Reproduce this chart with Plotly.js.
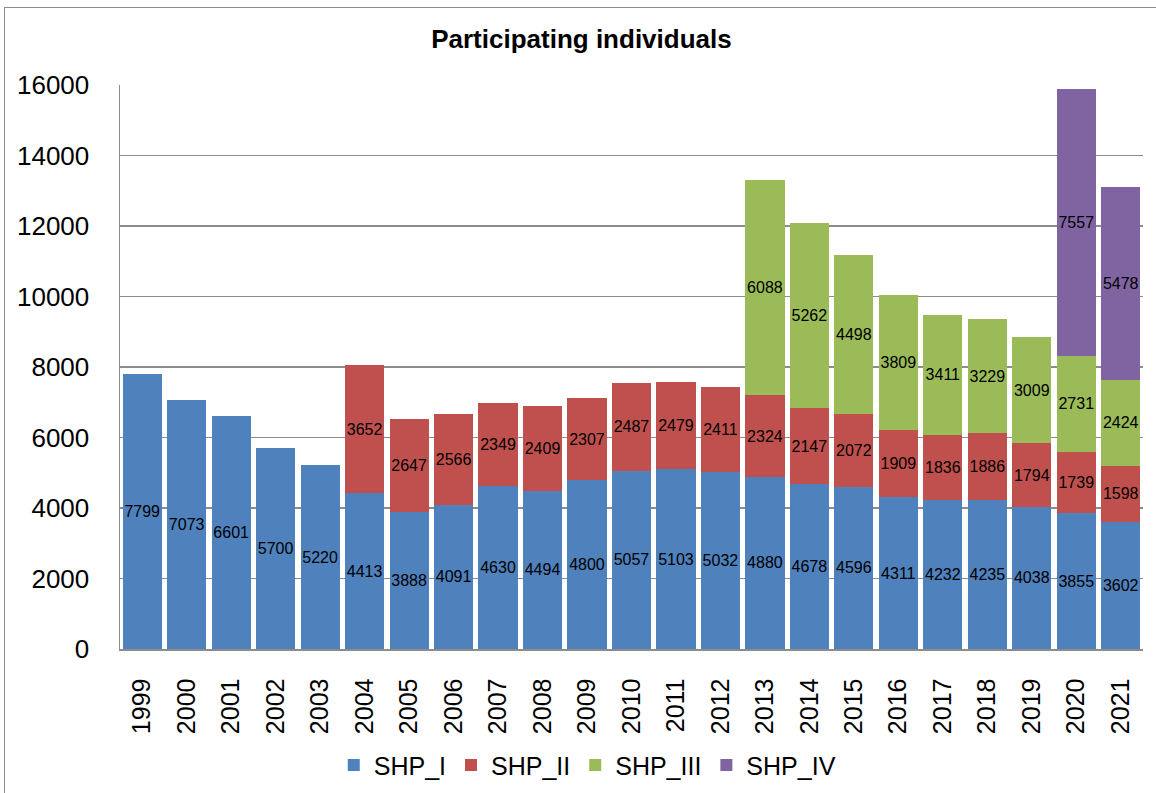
<!DOCTYPE html>
<html>
<head>
<meta charset="utf-8">
<script src="https://cdn.plot.ly/plotly-3.0.1.min.js"></script>
<style>
html, body { margin:0; padding:0; overflow:hidden; background:#fff; }
#chart { position:absolute; left:0; top:0; width:1156px; height:793px; }
#frame { position:absolute; left:4px; top:7px; width:1300px; height:1000px; border:1.5px solid #8c8c8c; pointer-events:none; }
</style>
</head>
<body>
<div id="chart"></div>
<div id="frame"></div>
<script>
const years = ["1999","2000","2001","2002","2003","2004","2005","2006","2007","2008","2009","2010","2011","2012","2013","2014","2015","2016","2017","2018","2019","2020","2021"];
const shpI   = [7799,7073,6601,5700,5220,4413,3888,4091,4630,4494,4800,5057,5103,5032,4880,4678,4596,4311,4232,4235,4038,3855,3602];
const shpII  = [null,null,null,null,null,3652,2647,2566,2349,2409,2307,2487,2479,2411,2324,2147,2072,1909,1836,1886,1794,1739,1598];
const shpIII = [null,null,null,null,null,null,null,null,null,null,null,null,null,null,6088,5262,4498,3809,3411,3229,3009,2731,2424];
const shpIV  = [null,null,null,null,null,null,null,null,null,null,null,null,null,null,null,null,null,null,null,null,null,7557,5478];
const seriesNames = ["SHP_I","SHP_II","SHP_III","SHP_IV"];
const seriesColors = ["#4F81BD","#C0504D","#9BBB59","#8064A2"];
const seriesData = [shpI, shpII, shpIII, shpIV];

const font = "Liberation Sans, Arial, sans-serif";
const traces = seriesData.map((vals, i) => ({
  type: "bar",
  name: seriesNames[i],
  x: years,
  y: vals,
  text: vals.map(v => v == null ? "" : String(v)),
  textposition: "inside",
  insidetextanchor: "middle",
  textangle: 0,
  constraintext: "none",
  insidetextfont: { family: font, size: 16, color: "#000" },
  marker: { color: seriesColors[i], line: { width: 0 } },
  hoverinfo: "x+y+name"
}));

const layout = {
  width: 1156, height: 793,
  margin: { l: 120, r: 13, t: 85, b: 144, autoexpand: false },
  barmode: "stack",
  bargap: 0.12,
  paper_bgcolor: "#fff",
  plot_bgcolor: "#fff",
  font: { family: font, color: "#000" },
  title: {
    text: "<b>Participating individuals</b>",
    font: { family: font, size: 26, color: "#000" },
    x: 0.503, xref: "container", xanchor: "center",
    y: 0.951, yref: "container", yanchor: "middle"
  },
  xaxis: {
    type: "category",
    tickangle: -90,
    tickfont: { family: font, size: 25, color: "#000" },
    showline: true, linecolor: "#8c8c8c", linewidth: 1.5,
    showgrid: false, ticks: "",
    automargin: false,
    ticklabelstandoff: 18
  },
  yaxis: {
    range: [0, 16000],
    dtick: 2000,
    tickformat: "d",
    tickfont: { family: font, size: 26, color: "#000" },
    showline: true, linecolor: "#8c8c8c", linewidth: 1.5,
    showgrid: true, gridcolor: "#8c8c8c", gridwidth: 1.5,
    zeroline: false, ticks: "",
    automargin: false,
    ticklabelstandoff: 24
  },
  legend: {
    orientation: "h",
    xref: "container", yref: "container",
    x: 0.508, xanchor: "center",
    y: 0.035, yanchor: "middle",
    font: { family: font, size: 25, color: "#000" },
    traceorder: "normal",
    itemwidth: 30
  },
  showlegend: true
};

Plotly.newPlot("chart", traces, layout, { displayModeBar: false, staticPlot: true });
</script>
</body>
</html>
